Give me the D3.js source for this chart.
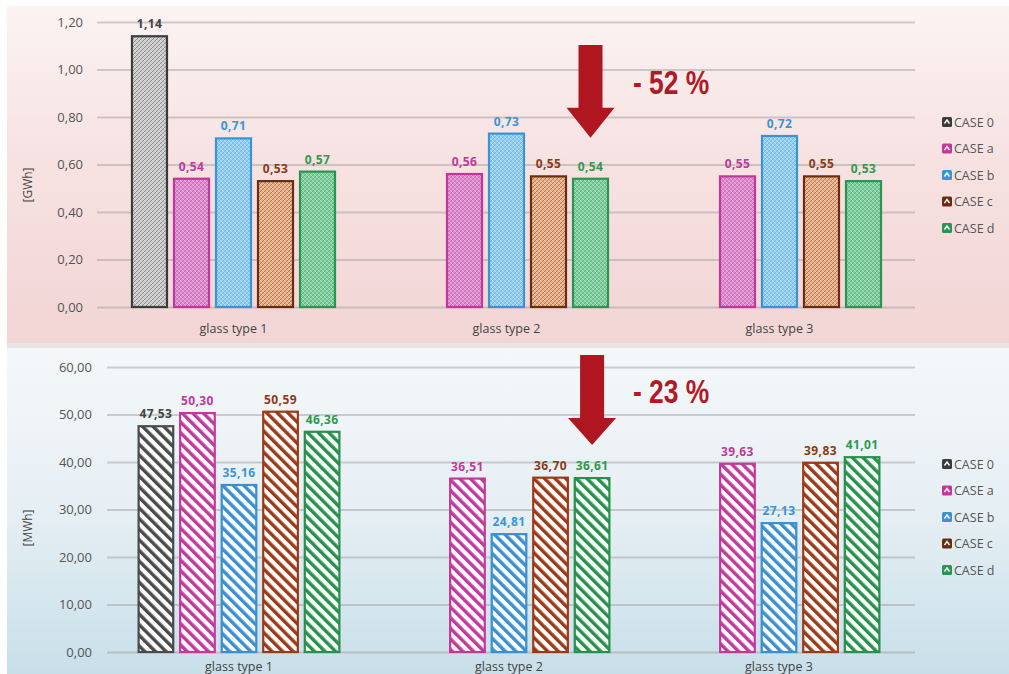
<!DOCTYPE html>
<html>
<head>
<meta charset="utf-8">
<script src="https://cdn.jsdelivr.net/npm/d3@7"></script>
<style>
  body { margin: 0; background: #fff; }
  svg { display: block; }
</style>
</head>
<body>
<div id="chart"></div>
<script>
var categories = ["glass type 1", "glass type 2", "glass type 3"];
var cases = ["CASE 0", "CASE a", "CASE b", "CASE c", "CASE d"];

// upper panel, GWh (null = no bar)
var gwhCase0 = [1.14, null, null];
var gwhCaseA = [0.54, 0.56, 0.55];
var gwhCaseB = [0.71, 0.73, 0.72];
var gwhCaseC = [0.53, 0.55, 0.55];
var gwhCaseD = [0.57, 0.54, 0.53];

// lower panel, MWh
var mwhCase0 = [47.53, null, null];
var mwhCaseA = [50.30, 36.51, 39.63];
var mwhCaseB = [35.16, 24.81, 27.13];
var mwhCaseC = [50.59, 36.70, 39.83];
var mwhCaseD = [46.36, 36.61, 41.01];

var gwhTicks = [0, 0.2, 0.4, 0.6, 0.8, 1.0, 1.2];
var mwhTicks = [0, 10, 20, 30, 40, 50, 60];

var width = 1009, height = 674;

var dark  = {"CASE 0": "#3c3c3c", "CASE a": "#c0389c", "CASE b": "#3a94d4", "CASE c": "#6b2c12", "CASE d": "#2a9550"};
var label = {"CASE 0": "#444444", "CASE a": "#c0399a", "CASE b": "#3b95d4", "CASE c": "#8a3b18", "CASE d": "#2e9a4e"};
var light = {"CASE 0": "#c9c9c9", "CASE a": "#d98acb", "CASE b": "#93cdef", "CASE c": "#e9ad84", "CASE d": "#7fcc9c"};
var stripe = {"CASE 0": "#4a4a4a", "CASE a": "#c2389c", "CASE b": "#3a8fd0", "CASE c": "#9a3a16", "CASE d": "#25914a"};

var fmt = d => d.toFixed(2).replace(".", ",");

var svg = d3.select("#chart").append("svg")
    .attr("width", width)
    .attr("height", height);

var defs = svg.append("defs");

var gTop = defs.append("linearGradient").attr("id", "bgTop")
    .attr("x1", 0).attr("y1", 0).attr("x2", 0).attr("y2", 1);
gTop.append("stop").attr("offset", "0%").attr("stop-color", "#fcf3f3");
gTop.append("stop").attr("offset", "45%").attr("stop-color", "#f7e2e2");
gTop.append("stop").attr("offset", "100%").attr("stop-color", "#f2d5d5");

var gBot = defs.append("linearGradient").attr("id", "bgBot")
    .attr("x1", 0).attr("y1", 0).attr("x2", 0).attr("y2", 1);
gBot.append("stop").attr("offset", "0%").attr("stop-color", "#f5f8fa");
gBot.append("stop").attr("offset", "50%").attr("stop-color", "#e6eff4");
gBot.append("stop").attr("offset", "100%").attr("stop-color", "#c8dfe9");

// fine texture for the upper bars
cases.forEach((c, i) => {
  var p = defs.append("pattern").attr("id", "tex" + i)
      .attr("patternUnits", "userSpaceOnUse")
      .attr("width", 4).attr("height", 4);
  p.append("rect").attr("width", 4).attr("height", 4).attr("fill", light[c]);
  p.append("path").attr("d", "M0,4 L4,0 M-1,1 L1,-1 M3,5 L5,3")
      .attr("stroke", dark[c]).attr("stroke-opacity", 0.45).attr("stroke-width", 0.9);
  p.append("path").attr("d", "M0,0 L4,4")
      .attr("stroke", "#fff").attr("stroke-opacity", 0.45).attr("stroke-width", 0.8);
});

// wide stripes for the lower bars
cases.forEach((c, i) => {
  var p = defs.append("pattern").attr("id", "str" + i)
      .attr("patternUnits", "userSpaceOnUse")
      .attr("width", 7.5).attr("height", 7.5)
      .attr("patternTransform", "rotate(-45)");
  p.append("rect").attr("width", 7.5).attr("height", 7.5).attr("fill", "#fff");
  p.append("rect").attr("width", 3.4).attr("height", 7.5).attr("fill", stripe[c]);
});

svg.append("rect").attr("x", 7).attr("y", 6).attr("width", width - 7).attr("height", 337)
    .attr("fill", "url(#bgTop)");
svg.append("rect").attr("x", 7).attr("y", 343).attr("width", width - 7).attr("height", 5)
    .attr("fill", "#e9e4e4");
svg.append("rect").attr("x", 7).attr("y", 348).attr("width", width - 7).attr("height", height - 348)
    .attr("fill", "url(#bgBot)");

function panel(opt) {
  var series = [opt.s0, opt.sa, opt.sb, opt.sc, opt.sd];
  var y = d3.scaleLinear().domain([0, d3.max(opt.ticks)]).range([opt.bottom, opt.top]);
  var x0 = d3.scaleBand().domain(categories).range(opt.xr);
  var x1 = d3.scaleBand().domain(cases).range([0, x0.bandwidth()])
      .paddingInner(0.1667).paddingOuter(0.833);

  var g = svg.append("g");

  var axis = g.append("g")
      .attr("transform", "translate(" + opt.gridX0 + ",0)")
      .call(d3.axisLeft(y).tickValues(opt.ticks).tickFormat(fmt)
          .tickSize(-(opt.gridX1 - opt.gridX0)).tickPadding(opt.pad));
  axis.select(".domain").remove();
  axis.selectAll(".tick line").attr("stroke", "#9a9a9a").attr("stroke-opacity", 0.45)
      .attr("stroke-width", 2);
  axis.selectAll(".tick text").attr("fill", "#555").attr("font-size", 13)
      .attr("font-family", "Open Sans, sans-serif");

  g.append("text")
      .attr("transform", "translate(32," + opt.titleY + ") rotate(-90)")
      .attr("text-anchor", "middle")
      .attr("font-family", "Open Sans, sans-serif")
      .attr("font-size", 12)
      .attr("fill", "#444")
      .text(opt.unit);

  var rows = [];
  cases.forEach((c, i) => {
    categories.forEach((cat, j) => {
      if (series[i][j] != null) rows.push({c: c, i: i, cat: cat, v: series[i][j]});
    });
  });

  g.selectAll("rect.bar").data(rows).enter().append("rect")
      .attr("class", "bar")
      .attr("x", d => x0(d.cat) + x1(d.c))
      .attr("y", d => y(d.v))
      .attr("width", x1.bandwidth())
      .attr("height", d => opt.bottom - y(d.v))
      .attr("fill", d => "url(#" + opt.pat + d.i + ")")
      .attr("stroke", d => opt.pat == "tex" ? dark[d.c] : stripe[d.c])
      .attr("stroke-width", 2.2);

  g.selectAll("text.val").data(rows).enter().append("text")
      .attr("class", "val")
      .attr("x", d => x0(d.cat) + x1(d.c) + x1.bandwidth() / 2)
      .attr("y", d => y(d.v) - 8)
      .attr("text-anchor", "middle")
      .attr("font-family", "Open Sans, sans-serif")
      .attr("font-weight", 700)
      .attr("font-size", 12)
      .attr("letter-spacing", 0.4)
      .attr("fill", d => label[d.c])
      .text(d => fmt(d.v));

  g.selectAll("text.cat").data(categories).enter().append("text")
      .attr("class", "cat")
      .attr("x", d => x0(d) + x0.bandwidth() / 2)
      .attr("y", opt.catY)
      .attr("text-anchor", "middle")
      .attr("font-family", "Open Sans, sans-serif")
      .attr("font-size", 12.5)
      .attr("fill", "#444")
      .text(d => d);

  var leg = g.selectAll("g.leg").data(cases).enter().append("g")
      .attr("class", "leg")
      .attr("transform", (d, i) => "translate(942," + (opt.legY + i * 26.5) + ")");
  leg.append("rect").attr("x", 0).attr("y", -5).attr("width", 10).attr("height", 10)
      .attr("rx", 1.5).attr("fill", d => dark[d]);
  leg.append("path").attr("d", "M2.5,1.5 L5,-2 L7.5,1.5")
      .attr("fill", "none").attr("stroke", "#fff").attr("stroke-width", 1.4);
  leg.append("text").attr("x", 12).attr("y", 4.5)
      .attr("font-family", "Open Sans, sans-serif")
      .attr("font-size", 12.5)
      .attr("fill", "#555")
      .text(d => d);

  // arrow over CASE d of glass type 2
  var ax = x0(categories[1]) + x1("CASE d") + x1.bandwidth() / 2;
  var tip = y(opt.sd[1]) - opt.tipGap;
  var top = opt.arrowTop;
  var hh = opt.headH;
  g.append("path")
      .attr("d", "M" + (ax - 12) + "," + top + " L" + (ax + 12) + "," + top +
                 " L" + (ax + 12) + "," + (tip - hh) + " L" + (ax + 24) + "," + (tip - hh) +
                 " L" + ax + "," + tip + " L" + (ax - 24) + "," + (tip - hh) +
                 " L" + (ax - 12) + "," + (tip - hh) + "Z")
      .attr("fill", "#b0161f");
  g.append("text")
      .attr("transform", "translate(633," + opt.pctY + ") scale(0.8,1)")
      .attr("font-family", "Liberation Sans, Arial, sans-serif")
      .attr("font-weight", 700)
      .attr("font-size", 33)
      .attr("fill", "#b01a28")
      .text(opt.pct);
}

panel({s0: gwhCase0, sa: gwhCaseA, sb: gwhCaseB, sc: gwhCaseC, sd: gwhCaseD,
       ticks: gwhTicks, top: 22, bottom: 307, xr: [97, 916], gridX0: 97, gridX1: 915, pad: 14,
       unit: "[GWh]", titleY: 185, catY: 333, legY: 122, pat: "tex",
       arrowTop: 45, tipGap: 41, headH: 30, pctY: 94, pct: "- 52 %"});

panel({s0: mwhCase0, sa: mwhCaseA, sb: mwhCaseB, sc: mwhCaseC, sd: mwhCaseD,
       ticks: mwhTicks, top: 367, bottom: 652, xr: [104, 914], gridX0: 107, gridX1: 915, pad: 15,
       unit: "[MWh]", titleY: 528, catY: 671, legY: 464, pat: "str",
       arrowTop: 355, tipGap: 33, headH: 27, pctY: 403, pct: "- 23 %"});
</script>
</body>
</html>
